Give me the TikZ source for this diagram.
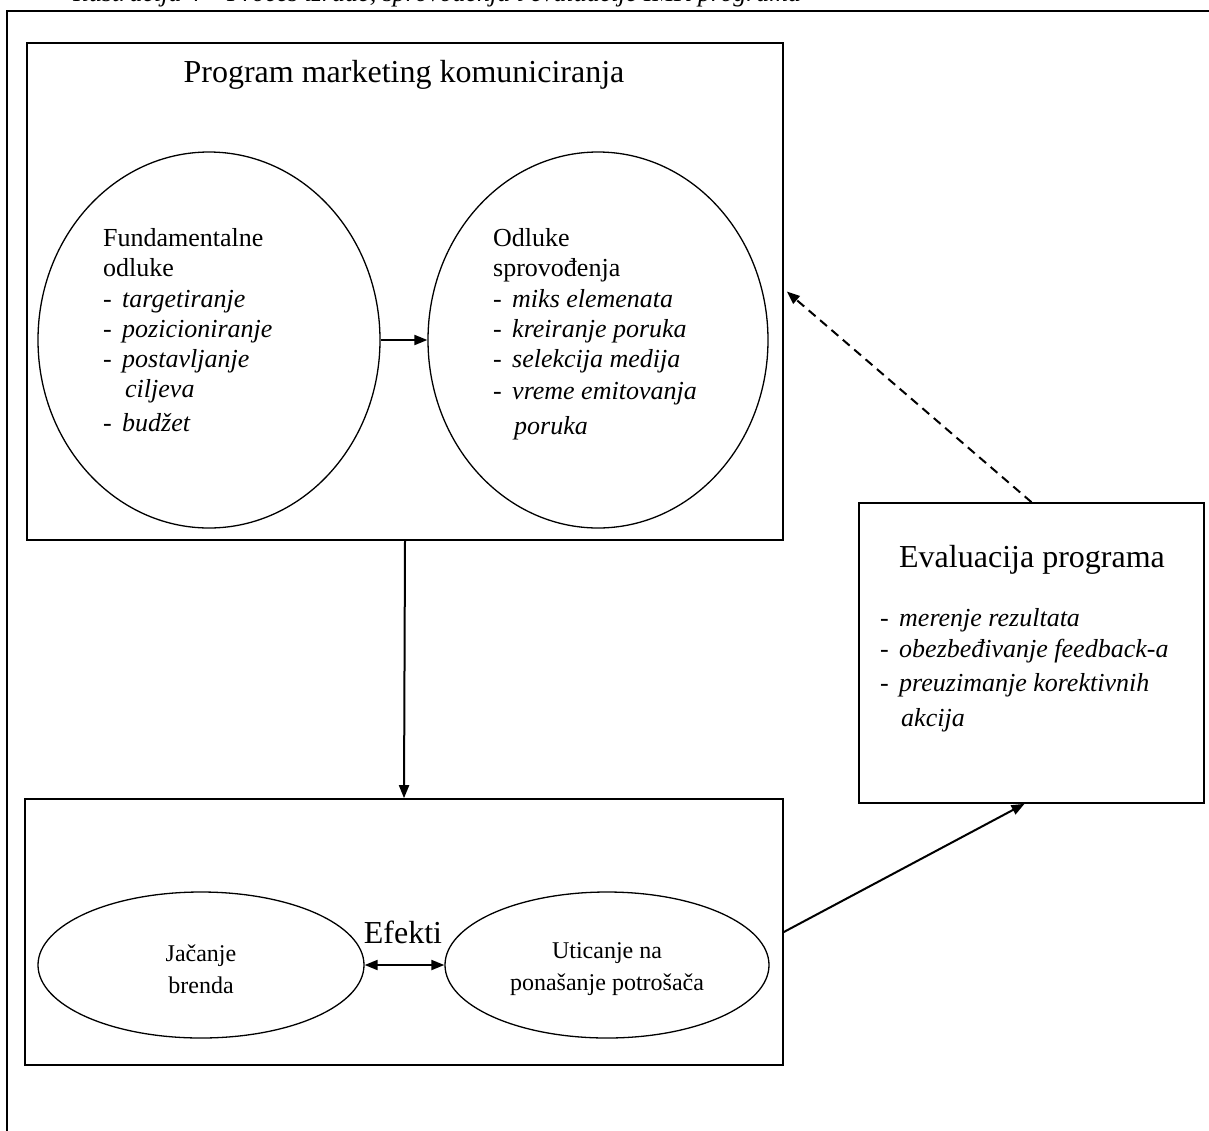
\documentclass[tikz,border=0pt]{standalone}
\usepackage{fontspec}
\setmainfont{Liberation Serif}
\usetikzlibrary{arrows.meta,shapes.geometric}
\tikzset{
  frame/.style={draw=black, line width=1.6pt, inner sep=0pt},
  oval/.style={draw=black, line width=1.3pt, ellipse, inner sep=0pt},
  txt/.style={inner sep=0pt, anchor=base west, font=\fontsize{26}{30}\selectfont},
  big/.style={inner sep=0pt, font=\fontsize{32}{36}\selectfont},
  small/.style={inner sep=0pt, align=center, font=\fontsize{24}{32}\selectfont},
  conn/.style={line width=2pt, -{Triangle[length=13pt,width=10pt]}},
  dconn/.style={line width=2pt, {Triangle[length=13pt,width=10pt]}-{Triangle[length=13pt,width=10pt]}},
  dashconn/.style={line width=2pt, dash pattern=on 9pt off 6pt, -{Triangle[length=13pt,width=10pt]}}
}
\newcommand{\itm}[1]{\makebox[19pt][l]{-}\textit{#1}}
\begin{document}
\begin{tikzpicture}[x=1pt,y=-1pt]
\clip (0,0) rectangle (1209,1130);
\fill[white] (0,0) rectangle (1209,1130);
% caption cut off at top
\node[txt, anchor=base west] (cap) at (73,1) {\textit{Ilustracija 4 – Proces izrade, sprovođenja i evaluacije IMK programa}};
% outer frame
\draw[line width=1.6pt] (7,1150) -- (7,11) -- (1230,11);
% top box
\node[frame, minimum width=756pt, minimum height=497pt] (top) at (405,291.5) {};
\node[big] (title) at (404,75) {Program marketing komuniciranja};
% ellipses top
\node[oval, minimum width=342pt, minimum height=376pt] (fe) at (209,340) {};
\node[oval, minimum width=340pt, minimum height=376pt] (oe) at (598,340) {};
\node[txt] (f1) at (103,246) {Fundamentalne};
\node[txt] (f2) at (103,276) {odluke};
\node[txt] (f3) at (103,307) {\itm{targetiranje}};
\node[txt] (f4) at (103,337) {\itm{pozicioniranje}};
\node[txt] (f5) at (103,367) {\itm{postavljanje}};
\node[txt] (f6) at (125,397) {\textit{ciljeva}};
\node[txt] (f7) at (103,431) {\itm{budžet}};
\node[txt] (o1) at (493,246) {Odluke};
\node[txt] (o2) at (493,276) {sprovođenja};
\node[txt] (o3) at (493,307) {\itm{miks elemenata}};
\node[txt] (o4) at (493,337) {\itm{kreiranje poruka}};
\node[txt] (o5) at (493,367) {\itm{selekcija medija}};
\node[txt] (o6) at (493,399) {\itm{vreme emitovanja}};
\node[txt] (o7) at (514,434) {\textit{poruka}};
\draw[conn] (fe.east) -- (oe.west);
% evaluation box
\node[frame, minimum width=345pt, minimum height=300pt] (eval) at (1031.5,653) {};
\node[big] (etitle) at (1032,560) {Evaluacija programa};
\node[txt] (e1) at (880,626) {\itm{merenje rezultata}};
\node[txt] (e2) at (880,657) {\itm{obezbeđivanje feedback-a}};
\node[txt] (e3) at (880,691) {\itm{preuzimanje korektivnih}};
\node[txt] (e4) at (901,726) {\textit{akcija}};
% bottom box
\node[frame, minimum width=758pt, minimum height=266pt] (bot) at (404,932) {};
\node[oval, minimum width=326pt, minimum height=146pt] (je) at (201,965) {};
\node[oval, minimum width=324pt, minimum height=146pt] (ue) at (607,965) {};
\node[small] (jt) at (201,969) {Jačanje\\brenda};
\node[small] (ut) at (607,969) {Uticanje na\\ponašanje potrošača};
\node[big] (ef) at (403,932) {Efekti};
\draw[dconn] (je.east) -- (ue.west);
% connectors
\draw[conn] (top.south) -- (bot.north);
\draw[conn] (bot.east) -- ([xshift=-7pt]eval.south);
\draw[dashconn] (eval.north) -- ([xshift=3pt]top.east);
\end{tikzpicture}
\end{document}
